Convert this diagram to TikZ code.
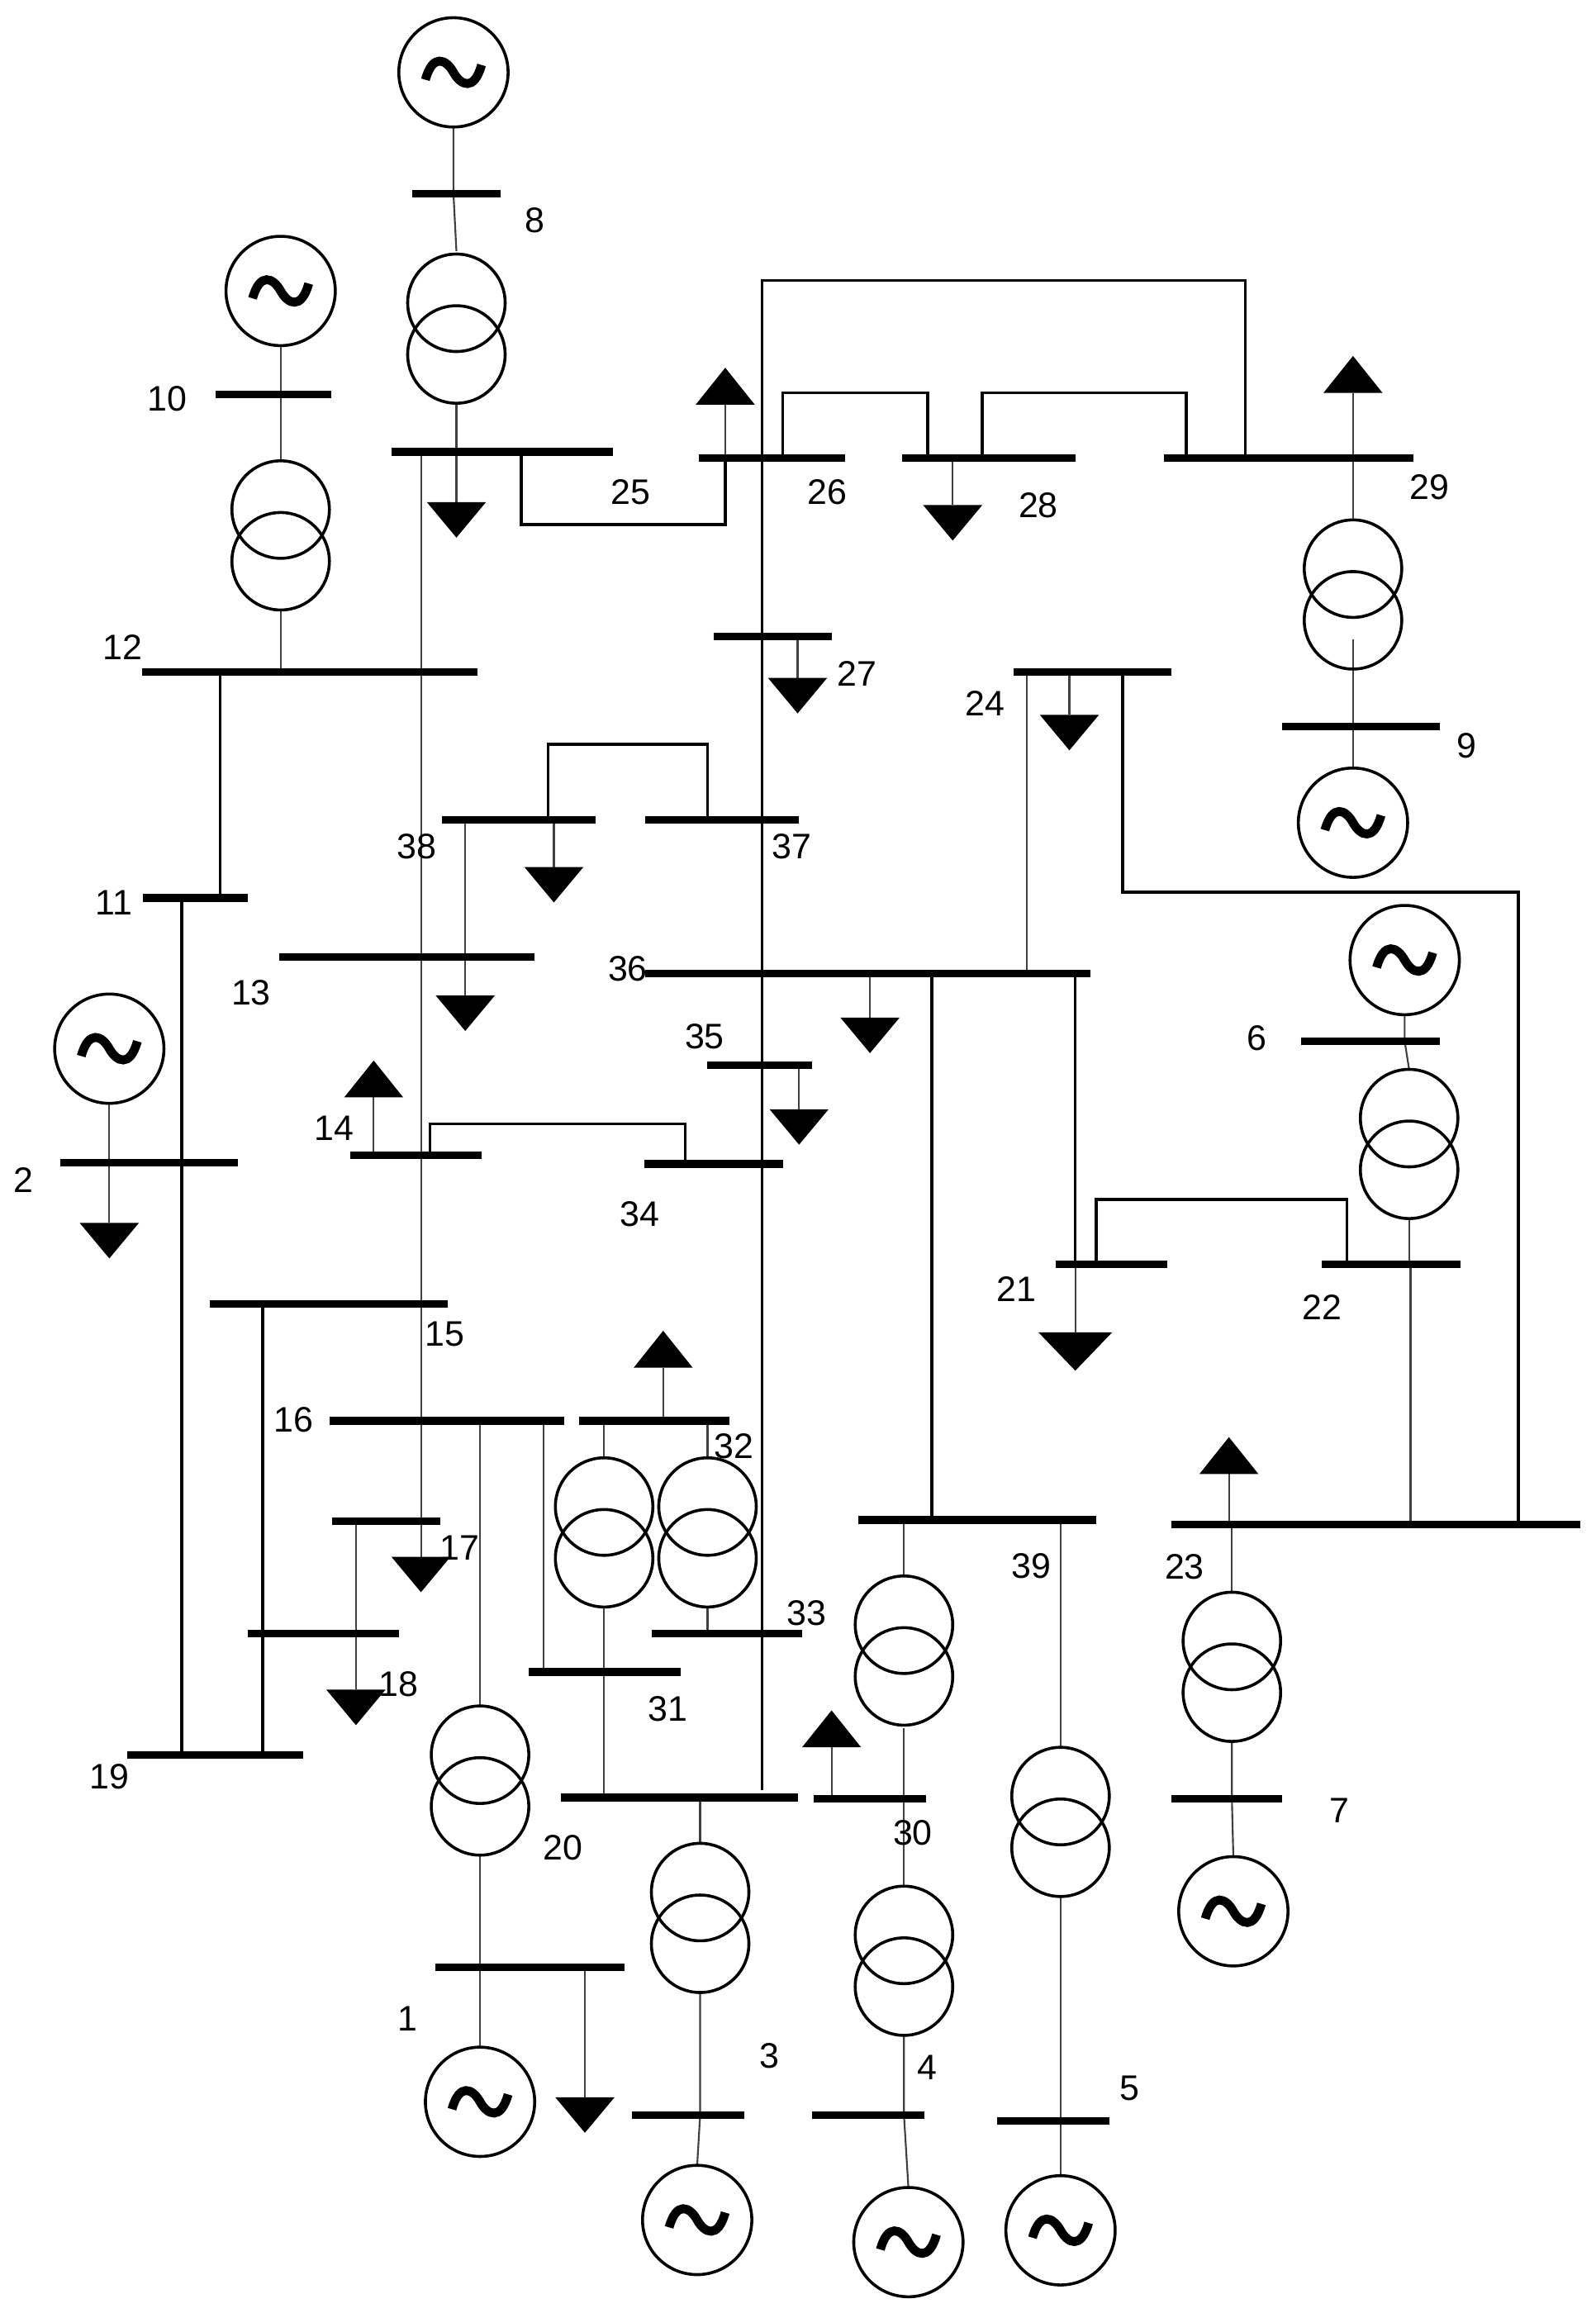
\documentclass[tikz,border=0pt]{standalone}
\usepackage{fontspec}
\setmainfont{Liberation Sans}
\begin{document}
\begin{tikzpicture}[x=0.5pt,y=-0.5pt,
  bus/.style={line width=2.6pt},
  thin/.style={line width=0.6pt,black!75},
  conn/.style={line width=1pt},
  ring/.style={line width=1pt},
  lbl/.style={font=\fontsize{12}{14}\selectfont,inner sep=0pt}]
\useasboundingbox (0,0) rectangle (1080,1566);
\newcommand\gen[2]{\draw[ring] (#1,#2) circle[radius=18.5pt];
  \draw[line width=3pt,shift={(#1,#2)}] (-19,5) .. controls (-14,-13) and (-5,-9) .. (0,0) .. controls (5,9) and (14,13) .. (19,-5);}
\newcommand\trafo[2]{\draw[ring] (#1,#2) circle[radius=16.5pt]; \draw[ring] (#1,#2+35) circle[radius=16.5pt];}
\newcommand\ld[3]{\draw[thin] (#1,#2) -- (#1,#3); \fill (#1-20,#3) -- (#1+20,#3) -- (#1,#3+24) -- cycle;}
\newcommand\lu[3]{\draw[thin] (#1,#2) -- (#1,#3); \fill (#1-20,#3) -- (#1+20,#3) -- (#1,#3-25) -- cycle;}
% thin lines
\draw[thin] (307,86) -- (307,131) -- (309,170);
\draw[thin] (309,273) -- (309,306);
\draw[thin] (190,234) -- (190,312);
\draw[thin] (190,413) -- (190,455);
\draw[thin] (74,747) -- (74,787);
\draw[thin] (916,310) -- (916,352);
\draw[thin] (916,433) -- (916,492) -- (916,520);
\draw[thin] (951,687) -- (951,705) -- (954,724);
\draw[thin] (954,826) -- (954,856);
\draw[thin] (955,856) -- (955,1032);
\draw[thin] (695,455) -- (695,659);
\draw[thin] (834,1032) -- (834,1078);
\draw[thin] (834,1179) -- (834,1218) -- (835,1257);
\draw[thin] (409,962) -- (409,987);
\draw[thin] (409,1088) -- (409,1217);
\draw[thin] (479,962) -- (479,987);
\draw[thin] (479,1088) -- (479,1106);
\draw[thin] (474,1217) -- (474,1248);
\draw[thin] (474,1349) -- (474,1432) -- (472,1466);
\draw[thin] (612,1029) -- (612,1067);
\draw[thin] (612,1170) -- (612,1218) -- (612,1277);
\draw[thin] (612,1378) -- (612,1432) -- (615,1481);
\draw[thin] (718,1029) -- (718,1183);
\draw[thin] (718,1283) -- (718,1436) -- (718,1473);
\draw[thin] (325,962) -- (325,1155);
\draw[thin] (325,1255) -- (325,1332) -- (325,1386);
\draw[thin] (368,962) -- (368,1132);
% connection lines
\draw[conn] (149,455) -- (149,608);
\draw[conn] (123,608) -- (123,1188);
\draw[conn] (178,883) -- (178,1188);
\draw[conn] (353,306) -- (353,355) -- (491,355) -- (491,310);
\draw[conn] (516,310) -- (516,190) -- (843,190) -- (843,310);
\draw[conn] (530,310) -- (530,266) -- (628,266) -- (628,310);
\draw[conn] (665,310) -- (665,266) -- (803,266) -- (803,310);
\draw[conn] (516,310) -- (516,1212);
\draw[conn] (760,455) -- (760,604) -- (1028,604) -- (1028,1032);
\draw[conn] (371,555) -- (371,504) -- (479,504) -- (479,555);
\draw[conn] (291,782) -- (291,761) -- (464,761) -- (464,788);
\draw[conn] (631,659) -- (631,1029);
\draw[conn] (728,659) -- (728,856);
\draw[conn] (742,856) -- (742,812) -- (912,812) -- (912,856);
% loads
\ld{309}{306}{340} \ld{645}{310}{342} \ld{540}{431}{459} \ld{724}{455}{484}
\ld{375}{555}{587} \ld{315}{555}{674} \ld{589}{659}{689} \ld{541}{721}{751}
\ld{74}{787}{828} \ld{285}{306}{1054} \ld{241}{1030}{1144} \ld{396}{1332}{1420}
\draw[thin] (728,856) -- (728,902); \fill (703,902) -- (753,902) -- (728,928) -- cycle;
\lu{491}{310}{274} \lu{916}{310}{266} \lu{253}{782}{743} \lu{449}{962}{926}
\lu{832}{1032}{998} \lu{563}{1218}{1183}
% generators and transformers
\gen{307}{49} \gen{190}{197} \gen{74}{710} \gen{916}{557} \gen{951}{650}
\gen{835}{1294} \gen{472}{1503} \gen{615}{1518} \gen{718}{1510} \gen{325}{1423}
\trafo{309}{205} \trafo{190}{345} \trafo{916}{385} \trafo{954}{757} \trafo{834}{1111}
\trafo{409}{1020} \trafo{479}{1020} \trafo{474}{1281} \trafo{612}{1100} \trafo{612}{1310}
\trafo{718}{1216} \trafo{325}{1188}
% buses
\draw[bus] (279,131) -- (339,131); \node[lbl] at (362,149) {8};
\draw[bus] (265,306) -- (415,306); \node[lbl] at (427,333) {25};
\draw[bus] (146,267) -- (224,267); \node[lbl] at (113,270) {10};
\draw[bus] (96,455) -- (323,455); \node[lbl] at (83,438) {12};
\draw[bus] (97,608) -- (168,608); \node[lbl] at (77,611) {11};
\draw[bus] (41,787) -- (161,787); \node[lbl] at (16,799) {2};
\draw[bus] (86,1188) -- (205,1188); \node[lbl] at (74,1203) {19};
\draw[bus] (142,883) -- (303,883); \node[lbl] at (301,903) {15};
\draw[bus] (223,962) -- (382,962); \node[lbl] at (199,961) {16};
\draw[bus] (225,1030) -- (298,1030); \node[lbl] at (311,1048) {17};
\draw[bus] (168,1106) -- (270,1106); \node[lbl] at (270,1140) {18};
\draw[bus] (473,310) -- (572,310); \node[lbl] at (560,333) {26};
\draw[bus] (611,310) -- (728,310); \node[lbl] at (703,342) {28};
\draw[bus] (788,310) -- (957,310); \node[lbl] at (968,330) {29};
\draw[bus] (868,492) -- (975,492); \node[lbl] at (993,505) {9};
\draw[bus] (483,431) -- (563,431); \node[lbl] at (580,456) {27};
\draw[bus] (686,455) -- (793,455); \node[lbl] at (667,476) {24};
\draw[bus] (793,1032) -- (1070,1032); \node[lbl] at (802,1061) {23};
\draw[bus] (299,555) -- (403,555); \node[lbl] at (282,573) {38};
\draw[bus] (437,555) -- (541,555); \node[lbl] at (536,573) {37};
\draw[bus] (189,648) -- (362,648); \node[lbl] at (170,672) {13};
\draw[bus] (437,659) -- (738,659); \node[lbl] at (425,656) {36};
\draw[bus] (479,721) -- (550,721); \node[lbl] at (477,702) {35};
\draw[bus] (237,782) -- (326,782); \node[lbl] at (226,764) {14};
\draw[bus] (436,788) -- (530,788); \node[lbl] at (433,822) {34};
\draw[bus] (581,1029) -- (742,1029); \node[lbl] at (698,1060) {39};
\draw[bus] (715,856) -- (790,856); \node[lbl] at (688,873) {21};
\draw[bus] (895,856) -- (989,856); \node[lbl] at (895,885) {22};
\draw[bus] (881,705) -- (975,705); \node[lbl] at (851,703) {6};
\draw[bus] (793,1218) -- (868,1218); \node[lbl] at (907,1226) {7};
\draw[bus] (392,962) -- (494,962); \node[lbl] at (497,979) {32};
\draw[bus] (441,1106) -- (543,1106); \node[lbl] at (546,1092) {33};
\draw[bus] (358,1132) -- (461,1132); \node[lbl] at (452,1157) {31};
\draw[bus] (380,1217) -- (540,1217); \node[lbl] at (381,1251) {20};
\draw[bus] (428,1432) -- (504,1432); \node[lbl] at (521,1392) {3};
\draw[bus] (551,1218) -- (627,1218); \node[lbl] at (618,1241) {30};
\draw[bus] (550,1432) -- (626,1432); \node[lbl] at (628,1400) {4};
\draw[bus] (675,1436) -- (751,1436); \node[lbl] at (765,1414) {5};
\draw[bus] (295,1332) -- (423,1332); \node[lbl] at (276,1367) {1};
\end{tikzpicture}
\end{document}
